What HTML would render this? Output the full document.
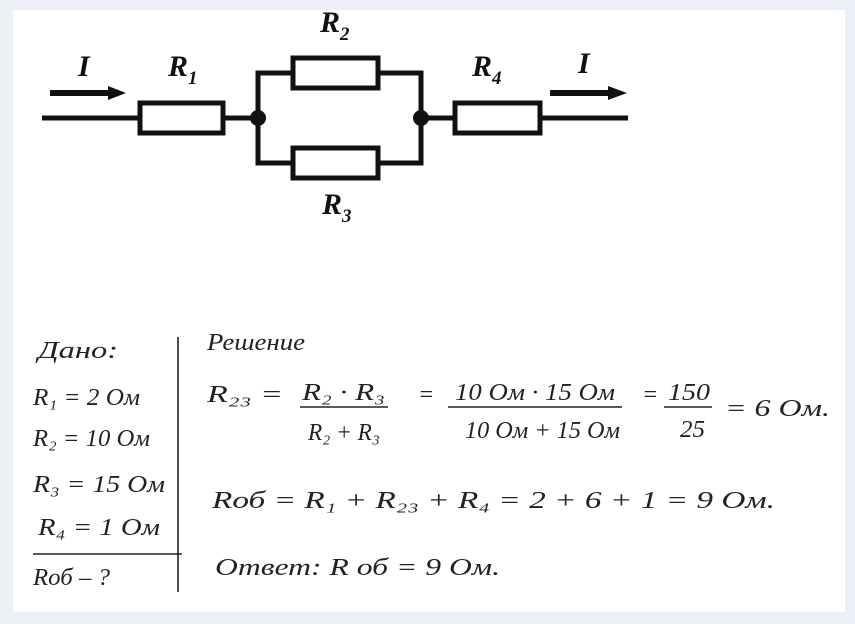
<!DOCTYPE html>
<html><head><meta charset="utf-8"><style>
html,body{margin:0;padding:0;background:#eef0f8;}
svg{display:block;}
.h{font-family:"Liberation Serif",serif;font-style:italic;fill:#222;}
.b{font-family:"Liberation Serif",serif;font-style:italic;font-weight:bold;fill:#111;}
</style></head><body>
<svg width="855" height="624" viewBox="0 0 855 624" xmlns="http://www.w3.org/2000/svg">
<rect x="0" y="0" width="855" height="624" fill="#eef0f8"/>
<rect x="13" y="10" width="832" height="602" fill="#fff"/>
<g stroke="#111" stroke-width="5" fill="none">
<line x1="42" y1="118" x2="140" y2="118"/>
<rect x="140" y="103" width="83" height="30"/>
<line x1="223" y1="118" x2="258" y2="118"/>
<polyline points="292,73 258,73 258,163 292,163"/>
<rect x="293" y="58" width="85" height="30"/>
<rect x="293" y="148" width="85" height="30"/>
<polyline points="378,73 421,73 421,163 378,163"/>
<line x1="421" y1="118" x2="455" y2="118"/>
<rect x="455" y="103" width="85" height="30"/>
<line x1="540" y1="118" x2="628" y2="118"/>
<line x1="50" y1="93" x2="110" y2="93" stroke-width="6"/>
<line x1="550" y1="93" x2="610" y2="93" stroke-width="6"/>
</g>
<polygon points="108,86 126,93 108,100" fill="#111"/>
<polygon points="608,86 627,93 608,100" fill="#111"/>
<circle cx="258" cy="118" r="8" fill="#111"/>
<circle cx="421" cy="118" r="8" fill="#111"/>
<text class="b" x="78" y="76" font-size="30">I</text>
<text class="b" x="168" y="76" font-size="30">R<tspan font-size="19" dy="8">1</tspan></text>
<text class="b" x="320" y="32" font-size="30">R<tspan font-size="19" dy="8">2</tspan></text>
<text class="b" x="322" y="214" font-size="30">R<tspan font-size="19" dy="8">3</tspan></text>
<text class="b" x="472" y="76" font-size="30">R<tspan font-size="19" dy="8">4</tspan></text>
<text class="b" x="578" y="73" font-size="30">I</text>
<g stroke="#222" stroke-width="1.6">
<line x1="178" y1="337" x2="178" y2="592"/>
<line x1="33" y1="554" x2="182" y2="554"/>
<line x1="300" y1="407" x2="388" y2="407"/>
<line x1="448" y1="407" x2="622" y2="407"/>
<line x1="664" y1="407" x2="712" y2="407"/>
</g>
<g class="h" font-size="24" lengthAdjust="spacingAndGlyphs">
<text x="38" y="358" textLength="80" lengthAdjust="spacingAndGlyphs">Дано:</text>
<text x="33" y="405" textLength="107" lengthAdjust="spacingAndGlyphs">R₁ = 2 Ом</text>
<text x="33" y="446" textLength="117" lengthAdjust="spacingAndGlyphs">R₂ = 10 Ом</text>
<text x="33" y="492" textLength="132" lengthAdjust="spacingAndGlyphs">R₃ = 15 Ом</text>
<text x="38" y="535" textLength="122" lengthAdjust="spacingAndGlyphs">R₄ = 1 Ом</text>
<text x="33" y="585" textLength="77" lengthAdjust="spacingAndGlyphs">Rоб – ?</text>
<text x="207" y="350" textLength="98" lengthAdjust="spacingAndGlyphs">Решение</text>
<text x="207" y="402" textLength="76" lengthAdjust="spacingAndGlyphs">R₂₃ =</text>
<text x="302" y="400" textLength="83" lengthAdjust="spacingAndGlyphs">R₂ · R₃</text>
<text x="308" y="440" textLength="72" lengthAdjust="spacingAndGlyphs">R₂ + R₃</text>
<text x="418" y="402">=</text>
<text x="455" y="400" textLength="160" lengthAdjust="spacingAndGlyphs">10 Ом · 15 Ом</text>
<text x="465" y="438" textLength="155" lengthAdjust="spacingAndGlyphs">10 Ом + 15 Ом</text>
<text x="642" y="402">=</text>
<text x="668" y="400" textLength="42" lengthAdjust="spacingAndGlyphs">150</text>
<text x="680" y="437" textLength="25" lengthAdjust="spacingAndGlyphs">25</text>
<text x="725" y="416" textLength="105" lengthAdjust="spacingAndGlyphs">= 6  Ом.</text>
<text x="212" y="508" textLength="563" lengthAdjust="spacingAndGlyphs">Rоб =  R₁ + R₂₃ + R₄  =  2 + 6 + 1 = 9 Ом.</text>
<text x="215" y="575" textLength="285" lengthAdjust="spacingAndGlyphs">Ответ:  R об = 9 Ом.</text>
</g>
</svg>
</body></html>
